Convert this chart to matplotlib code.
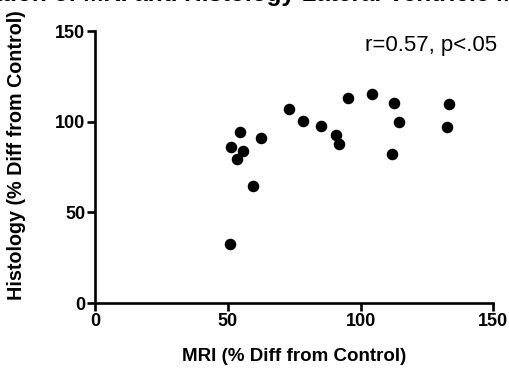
import matplotlib
matplotlib.use("Agg")
import matplotlib.pyplot as plt

# MRI vs histology, % difference from control
mri = [51.2, 54.7, 55.7, 53.6, 62.6, 59.6, 51.0, 73.1, 78.2, 85.0,
       90.8, 91.8, 95.4, 104.3, 112.5, 114.6, 111.9, 133.2, 132.5]
histology = [85.9, 94.2, 83.8, 79.4, 91.0, 64.4, 32.5, 106.9, 100.4, 97.6,
             92.7, 87.7, 112.9, 115.3, 110.5, 99.7, 82.2, 109.8, 97.2]
ticks = [0, 50, 100, 150]
stat_text = "r=0.57, p<.05"
title = "Correlation of MRI and Histology Lateral Ventricle Measurements"

plt.rcParams["font.family"] = ["Liberation Sans", "DejaVu Sans"]

W, H = 509, 377
fig = plt.figure(figsize=(W / 100, H / 100), dpi=100)
ax = fig.add_axes([95 / W, 1 - 303 / H, (493.3 - 95) / W, (303 - 31) / H])

ax.plot(mri, histology, "o", color="black", markersize=7.3, clip_on=False)

ax.set_xlim(0, 150)
ax.set_ylim(0, 150)
ax.set_xticks(ticks)
ax.set_yticks(ticks)
for side in ("top", "right"):
    ax.spines[side].set_visible(False)
for side in ("left", "bottom"):
    ax.spines[side].set_linewidth(1.9)
ax.tick_params(length=6, width=1.9, labelsize=13, pad=1)
for lab in ax.get_xticklabels() + ax.get_yticklabels():
    lab.set_fontweight("bold")

ax.set_xlabel("MRI (% Diff from Control)", fontsize=13.5, fontweight="bold", labelpad=13)
ax.set_ylabel("Histology (% Diff from Control)", fontsize=14.2, fontweight="bold")
ax.yaxis.set_label_coords(-(95 - 26) / (493.3 - 95), (303 - 155) / (303 - 31))

ax.text(497 / W, 1 - 45 / H, stat_text, transform=fig.transFigure,
        ha="right", va="center", fontsize=16)

# title is cut off by the top edge in the reference; shift so "tion" starts at the left edge
renderer = fig.canvas.get_renderer()
probe = fig.text(0, 0, "Correla", fontsize=17.5, fontweight="bold")
w = probe.get_window_extent(renderer).width
probe.remove()
fig.text((2 - w) / W, 1 - 1.5 / H, title, fontsize=17.5, fontweight="bold",
         ha="left", va="baseline")

fig.savefig("out.png", dpi=100)
